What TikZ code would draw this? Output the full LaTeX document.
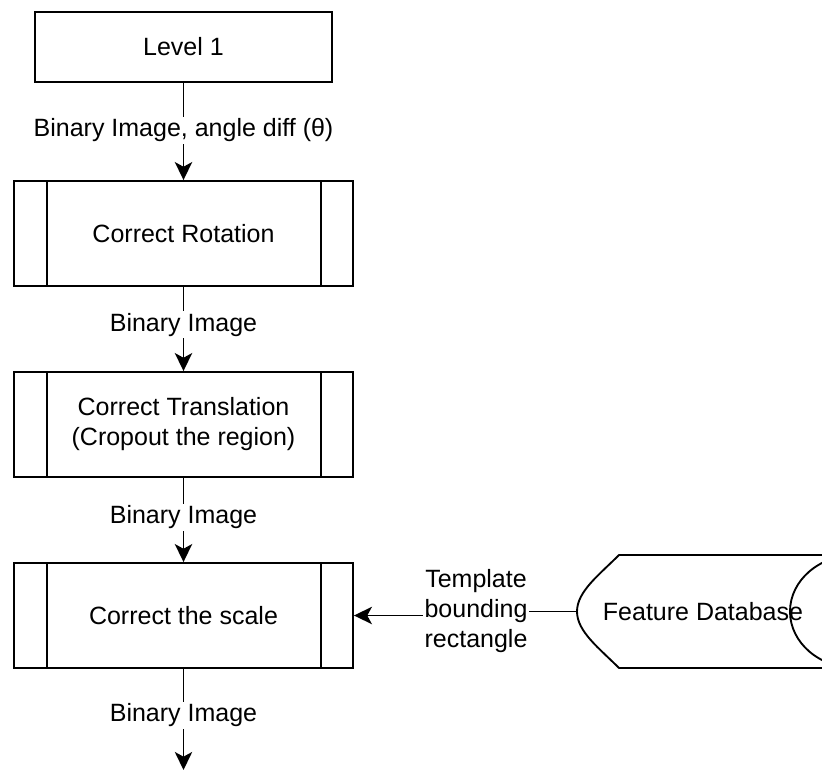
\documentclass[tikz,border=0pt]{standalone}
\usepackage{fontspec}
\setmainfont{Liberation Sans}
\usetikzlibrary{arrows.meta}
\begin{document}
\begin{tikzpicture}[x=0.75pt,y=-0.75pt,
  every node/.style={font=\fontsize{18.75}{22.5}\selectfont},
  plainbox/.style={draw, line width=1.4pt, inner sep=0pt, minimum width=297*0.75pt, minimum height=70*0.75pt},
  procbox/.style={draw, line width=1.4pt, inner sep=0pt, minimum width=339*0.75pt, minimum height=105*0.75pt, align=center},
  conn/.style={line width=1.3pt, -{Stealth[length=13.5pt, width=13pt, inset=3.5pt]}},
  lbl/.style={fill=white, inner sep=1.5pt, align=center},
  shapeline/.style={line width=1.4pt}]
\path[use as bounding box, clip] (0,0) rectangle (822,771);
\node[plainbox] (l1) at (183.5,47) {Level 1};
\node[procbox] (rot) at (183.5,233.5) {Correct Rotation};
\node[procbox] (tra) at (183.5,424.5) {Correct Translation\\(Cropout the region)};
\node[procbox] (sca) at (183.5,615.5) {Correct the scale};
\coordinate (end) at (183.5,770);
\foreach \n in {rot,tra,sca} {
  \draw[shapeline] ([xshift=34*0.75pt]\n.north west) -- ([xshift=34*0.75pt]\n.south west);
  \draw[shapeline] ([xshift=-33*0.75pt]\n.north east) -- ([xshift=-33*0.75pt]\n.south east);
}
\draw[conn] (l1) -- node[lbl, pos=0.49] (e1) {Binary Image, angle diff (θ)} (rot);
\draw[conn] (rot) -- node[lbl, pos=0.45] (e2) {Binary Image} (tra);
\draw[conn] (tra) -- node[lbl, pos=0.47] (e3) {Binary Image} (sca);
\draw[conn] (sca) -- node[lbl, pos=0.46] (e4) {Binary Image} (end);
% Feature Database
\node[inner sep=0pt, minimum width=303*0.75pt, minimum height=113*0.75pt, anchor=west] (fdb) at (577,611.5) {};
\draw[shapeline, line join=round] (900,555) -- (619,555)
  .. controls (599,575) and (577,591.5) .. (577,611.5)
  .. controls (577,631.5) and (599,648) .. (619,668) -- (900,668);
\draw[shapeline] (855.7,555) arc[start angle=270, end angle=90, x radius=65.7, y radius=56.5];
\node (fdbt) at (703,611.5) {Feature Database};
\draw[conn] (fdb.west) -- (476,611.5) node[lbl] (tpl) {Template\\bounding\\rectangle} |- (sca.east);
\end{tikzpicture}
\end{document}
